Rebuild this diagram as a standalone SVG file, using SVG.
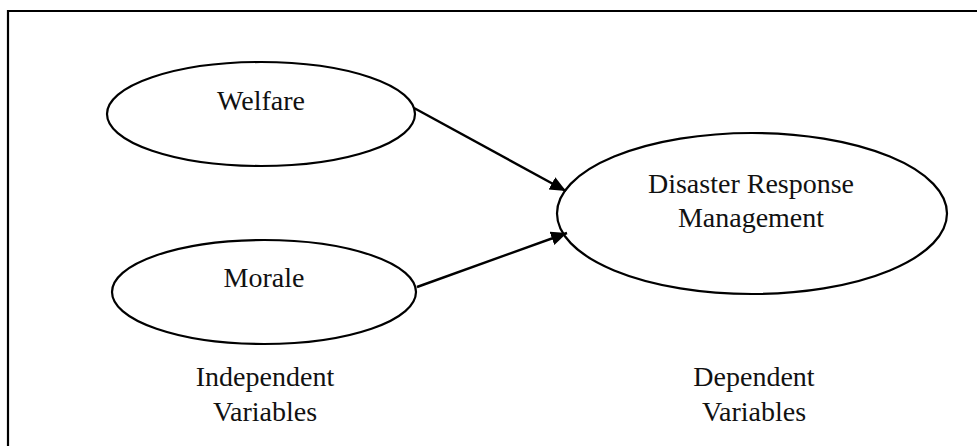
<svg xmlns="http://www.w3.org/2000/svg" width="977" height="446" viewBox="0 0 977 446">
<style>
.node ellipse{fill:#fff;stroke:#000;stroke-width:2.2}
text{font-family:"Liberation Serif","Times New Roman",serif;font-size:28px;fill:#111;text-anchor:middle}
.conn line{stroke:#000;stroke-width:2.4}
</style>
<defs>
<marker id="ah" markerUnits="userSpaceOnUse" markerWidth="17" markerHeight="15" refX="16" refY="7" orient="auto">
<path d="M0,0 L16,7 L0,14 Z" fill="#000"/>
</marker>
</defs>
<rect width="977" height="446" fill="#fff"/>
<path d="M8,446 V11 H977" fill="none" stroke="#000" stroke-width="2.2"/>
<g id="welfare" class="node">
<ellipse cx="261" cy="114" rx="154" ry="52"/>
<text x="261" y="110">Welfare</text>
</g>
<g id="morale" class="node">
<ellipse cx="264" cy="292" rx="152" ry="52"/>
<text x="264" y="287">Morale</text>
</g>
<g id="drm" class="node">
<ellipse cx="752" cy="213.5" rx="195" ry="80.5"/>
<text x="751" y="193">Disaster Response</text>
<text x="751" y="227">Management</text>
</g>
<g id="independent-label">
<text x="265" y="386">Independent</text>
<text x="265" y="421">Variables</text>
</g>
<g id="dependent-label">
<text x="754" y="386">Dependent</text>
<text x="754" y="421">Variables</text>
</g>
<g id="connectors" class="conn">
<line x1="414" y1="108" x2="566" y2="191" marker-end="url(#ah)"/>
<line x1="417" y1="287" x2="567" y2="233" marker-end="url(#ah)"/>
</g>
</svg>
